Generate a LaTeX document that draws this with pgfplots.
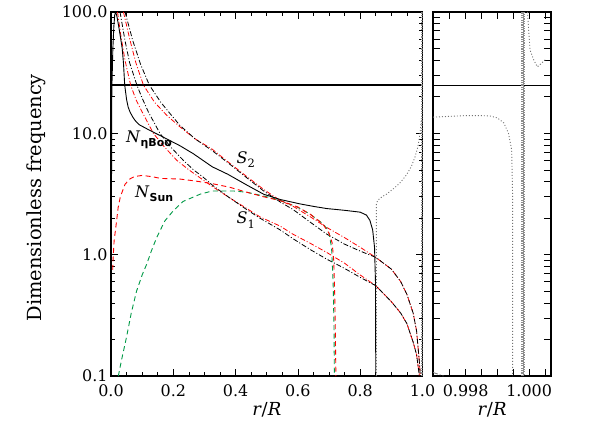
\documentclass[border=0pt]{standalone}
\usepackage{fontspec}
\setmainfont{DejaVu Serif}
\setsansfont{DejaVu Sans}
\usepackage{pgfplots}
\pgfplotsset{compat=1.18}
\newcommand\tf{\fontsize{16}{19}\selectfont}
\newcommand\lf{\fontsize{18}{21}\selectfont}
\newcommand\subf{\fontsize{11}{13}\selectfont}
\definecolor{myred}{rgb}{1,0,0}
\definecolor{mygreen}{rgb}{0,0.6,0.27}
\definecolor{mygray}{gray}{0.45}
\definecolor{lgray}{gray}{0.55}
\pgfplotsset{
 dd/.style={dash pattern=on 5bp off 2bp on 1bp off 2bp, line width=0.8bp},
 dsh/.style={dash pattern=on 5bp off 3.5bp, line width=0.9bp},
 dt/.style={dash pattern=on 1bp off 2bp, line width=0.9bp},
 thk/.style={lgray, line width=2.2bp, dash pattern=on 1.2bp off 1.2bp},
}
\begin{document}
\begin{tikzpicture}
\path[use as bounding box] (0,0) rectangle (601bp,432bp);
\begin{axis}[ymode=log, scale only axis, height=364bp, ymin=0.1, ymax=100,
  axis line style={line width=1.1bp}, tick align=inside,
  xtick pos=both, ytick pos=both, xticklabel pos=lower, yticklabel pos=left,
  major tick length=7bp, minor tick length=4bp,
  every tick/.append style={black, line width=0.7bp},
  ytick={0.1,1,10,100},
  tick label style={font=\tf}, label style={font=\lf},
  xticklabel style={yshift=-5bp},
  at={(111bp,56bp)}, anchor=south west, width=311.5bp,
  xmin=0, xmax=1, xtick={0,0.2,0.4,0.6,0.8,1.0},
  xticklabels={0.0,0.2,0.4,0.6,0.8,1.0}, minor x tick num=3,
  yticklabels={0.1,1.0,10.0,100.0},
  xlabel={\textit{r}/\textit{R}}, ylabel={Dimensionless frequency},
  xlabel style={at={(axis description cs:0.5,-0.093)}, anchor=center},
  ylabel style={at={(axis description cs:-0.241,0.49)}, anchor=center, font=\fontsize{19.5}{22}\selectfont}]
% horizontal line
\addplot[black, line width=2.2bp] coordinates {(0,25) (1,25)};
% S1 red
\addplot[myred, dd] coordinates {(0.021,100) (0.03,68) (0.045,40) (0.063,25) (0.08,19) (0.1,15) (0.136,10) (0.17,7.8) (0.211,6.0) (0.25,5.0) (0.286,4.3) (0.325,3.65) (0.38,2.95) (0.436,2.4) (0.478,2.05) (0.543,1.72) (0.585,1.47) (0.64,1.24) (0.692,1.045) (0.75,0.85) (0.8,0.68) (0.85,0.555) (0.9,0.41) (0.93,0.33) (0.95,0.27) (0.97,0.19) (0.981,0.15) (0.99,0.1)};
% S1 black
\addplot[black, dd] coordinates {(0.029,100) (0.045,58) (0.06,38) (0.083,25) (0.1,19.5) (0.12,15) (0.157,10) (0.19,7.8) (0.232,6.0) (0.265,5.0) (0.296,4.35) (0.325,3.75) (0.38,2.95) (0.436,2.35) (0.478,2.0) (0.543,1.6) (0.585,1.35) (0.64,1.1) (0.692,0.92) (0.75,0.77) (0.8,0.65) (0.85,0.555) (0.9,0.41) (0.93,0.33) (0.95,0.27) (0.97,0.19) (0.981,0.15) (0.99,0.1)};
% S2 red
\addplot[myred, dd] coordinates {(0.04,100) (0.06,60) (0.08,38) (0.104,25) (0.14,18) (0.18,14) (0.2215,11.3) (0.27,9.0) (0.325,7.4) (0.38,5.7) (0.436,4.4) (0.49,3.45) (0.543,2.8) (0.585,2.5) (0.64,2.05) (0.692,1.68) (0.75,1.38) (0.8,1.15) (0.85,0.95) (0.9,0.76) (0.93,0.6) (0.95,0.47) (0.97,0.33) (0.981,0.235) (0.99,0.13) (0.993,0.1)};
% S2 black
\addplot[black, dd] coordinates {(0.045,100) (0.07,58) (0.095,37) (0.123,25) (0.16,18) (0.19,14.5) (0.2215,11.6) (0.27,9.0) (0.325,7.2) (0.38,5.6) (0.436,4.3) (0.49,3.35) (0.543,2.72) (0.585,2.35) (0.64,1.85) (0.692,1.48) (0.75,1.22) (0.8,1.07) (0.85,0.95) (0.9,0.76) (0.93,0.6) (0.95,0.47) (0.97,0.33) (0.981,0.235) (0.99,0.13) (0.993,0.1)};
% green dashed
\addplot[mygreen, dsh] coordinates {(0.0235,0.1) (0.035,0.14) (0.05,0.21) (0.065,0.33) (0.082,0.5) (0.1,0.68) (0.115,0.84) (0.13,1.08) (0.147,1.39) (0.173,1.9) (0.2,2.3) (0.232,2.75) (0.286,3.15) (0.325,3.35) (0.393,3.35) (0.436,3.27) (0.5,3.0) (0.543,2.8) (0.6,2.45) (0.64,2.15) (0.68,1.8) (0.698,1.58) (0.708,1.15) (0.713,0.6) (0.716,0.25) (0.717,0.1)};
% N Sun red dashed
\addplot[myred, dsh] coordinates {(0.0055,0.75) (0.0065,0.9) (0.01,1.3) (0.018,1.9) (0.023,2.45) (0.03,3.0) (0.045,3.8) (0.06,4.2) (0.075,4.4) (0.1,4.5) (0.13,4.4) (0.16,4.25) (0.2215,4.2) (0.27,4.05) (0.325,3.85) (0.38,3.6) (0.436,3.27) (0.49,3.0) (0.543,2.79) (0.6,2.47) (0.64,2.15) (0.68,1.79) (0.7,1.5) (0.71,1.25) (0.715,0.9) (0.718,0.5) (0.72,0.25) (0.722,0.1)};
% N eta Boo solid
\addplot[black, line width=0.9bp] coordinates {(0.001,0.1) (0.002,15) (0.003,25) (0.006,50) (0.009,75) (0.012,95) (0.015,100) (0.019,92) (0.024,78) (0.03,63) (0.036,50) (0.04,38) (0.044,25) (0.05,19) (0.055,16.5) (0.061,15) (0.07,13.6) (0.077,12.8) (0.09,11.8) (0.115,10.9) (0.14,10.1) (0.168,9.3) (0.2215,7.9) (0.264,6.8) (0.325,5.3) (0.375,4.6) (0.436,3.75) (0.49,3.15) (0.543,2.85) (0.607,2.62) (0.65,2.5) (0.692,2.4) (0.75,2.32) (0.8,2.24) (0.82,2.12) (0.831,1.92) (0.84,1.6) (0.846,1.15) (0.849,0.6) (0.85,0.1)};
% N eta Boo dotted (outer)
\addplot[mygray, dt] coordinates {(0.852,0.1) (0.852,2.6) (0.856,2.8) (0.87,3.0) (0.885,3.16) (0.91,3.55) (0.93,3.96) (0.95,4.6) (0.965,5.4) (0.976,6.4) (0.985,7.7) (0.992,10) (0.997,13.6) (0.9985,14)};
\addplot[thk] coordinates {(0.9985,0.1) (0.9985,100)};
\node[anchor=base west, font=\tf] at (axis cs:0.0376,8.47) {\textit{N}\raisebox{-4.5bp}{\subf\sffamily\bfseries ηBoo}};
\node[anchor=base west, font=\tf] at (axis cs:0.0665,2.98) {\textit{N}\raisebox{-4.5bp}{\subf\sffamily\bfseries Sun}};
\node[anchor=base west, font=\tf] at (axis cs:0.392,5.65) {\textit{S}\raisebox{-4.5bp}{\fontsize{11.5}{13}\selectfont 2}};
\node[anchor=base west, font=\tf] at (axis cs:0.392,1.80) {\textit{S}\raisebox{-4.5bp}{\fontsize{11.5}{13}\selectfont 1}};
\end{axis}
\begin{axis}[ymode=log, scale only axis, height=364bp, ymin=0.1, ymax=100,
  axis line style={line width=1.1bp}, tick align=inside,
  xtick pos=both, ytick pos=both, xticklabel pos=lower, yticklabel pos=left,
  major tick length=7bp, minor tick length=7bp,
  every tick/.append style={black, line width=0.7bp},
  ytick={0.1,1,10,100},
  tick label style={font=\tf}, label style={font=\lf},
  xticklabel style={yshift=-5bp},
  at={(433bp,56bp)}, anchor=south west, width=118bp,
  xmin=0.99697, xmax=1.00069, xtick={0.998,1.0}, xticklabels={0.998,1.000},
  minor xtick={0.9975,0.9985,0.999,0.9995,1.0005},
  yticklabels={},
  xlabel={\textit{r}/\textit{R}},
  xlabel style={at={(axis description cs:0.5,-0.093)}, anchor=center}]
\addplot[black, line width=0.9bp] coordinates {(0.99697,25) (1.00069,25)};
\addplot[mygray, dt] coordinates {(0.99697,13.6) (0.9975,13.8) (0.998,14.0) (0.9985,14.0) (0.99877,13.9) (0.999,13.4) (0.9992,12.2) (0.99935,10) (0.99945,7.3) (0.99948,3) (0.99948,0.1)};
\addplot[mygray, dt] coordinates {(0.99995,100) (0.99999,68) (1.00003,48.5) (1.00015,40) (1.00026,35.3) (1.0004,38) (1.00055,41.4)};
\addplot[mygray, dd] coordinates {(0.99697,0.107) (0.9973,0.1)};
\addplot[thk] coordinates {(0.99979,0.1) (0.99979,100)};
\addplot[thk, dash phase=1.2bp] coordinates {(0.99985,0.1) (0.99985,100)};
\end{axis}
\end{tikzpicture}
\end{document}
